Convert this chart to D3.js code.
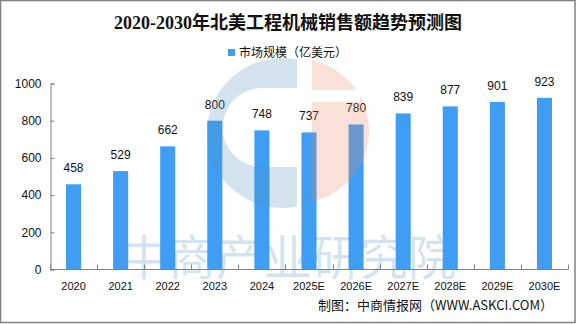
<!DOCTYPE html>
<html>
<head>
<meta charset="utf-8">
<script src="https://cdn.jsdelivr.net/npm/d3@7"></script>
<style>
  html, body { margin: 0; padding: 0; background: #fff; }
  svg { display: block; }
</style>
</head>
<body>
<div id="chart"></div>
<script>
var width = 576,
    height = 324;

const years = ["2020", "2021", "2022", "2023", "2024", "2025E", "2026E", "2027E", "2028E", "2029E", "2030E"];
const sales = [458, 529, 662, 800, 748, 737, 780, 839, 877, 901, 923];
const yTicks = [0, 200, 400, 600, 800, 1000];

const title = "2020-2030年北美工程机械销售额趋势预测图";
const seriesName = "市场规模（亿美元）";
const source = "制图：中商情报网（WWW.ASKCI.COM）";
const watermark = "中商产业研究院";

const barColor = "#3f9ef3";
const sans = "'Liberation Sans', 'Noto Sans CJK SC', sans-serif";
const cjk = "'Noto Sans CJK SC', sans-serif";

var svg = d3.select("#chart").append("svg")
  .attr("width", width)
  .attr("height", height);

// outer frame
svg.append("rect")
  .attr("x", 0.5).attr("y", 0.5)
  .attr("width", width - 1.5).attr("height", height - 2)
  .attr("fill", "#fff")
  .attr("stroke", "#808080")
  .attr("stroke-width", 1.5);

// plot area
var x = d3.scaleBand()
  .domain(years)
  .range([50, 568])
  .paddingInner(0.68)
  .paddingOuter(0.34);

var y = d3.scaleLinear()
  .domain([0, 1000])
  .range([269.5, 83.5]);

// watermark text, behind the bars
svg.append("text")
  .attr("x", 120)
  .attr("y", 275)
  .attr("font-size", 48)
  .style("font-family", cjk)
  .attr("fill", "rgb(80,148,192)")
  .attr("fill-opacity", 0.25)
  .text(watermark);

// bars
svg.append("g").selectAll("rect")
  .data(sales)
  .join("rect")
  .attr("x", (d, i) => x(years[i]))
  .attr("y", d => y(d))
  .attr("width", x.bandwidth())
  .attr("height", d => y(0) - y(d))
  .attr("fill", barColor);

// value labels
svg.append("g").selectAll("text")
  .data(sales)
  .join("text")
  .attr("x", (d, i) => x(years[i]) + x.bandwidth() / 2)
  .attr("y", d => y(d) - 12)
  .attr("text-anchor", "middle")
  .attr("font-size", 12)
  .style("font-family", sans)
  .attr("fill", "#111")
  .text(d => d);

// y axis
var yAxis = d3.axisLeft(y)
  .tickValues(yTicks)
  .tickFormat(d3.format("d"))
  .tickSize(-4)
  .tickPadding(9);

var gy = svg.append("g")
  .attr("transform", "translate(50.5,0)")
  .call(yAxis);
gy.selectAll("path, line").attr("stroke", "#808080");
gy.selectAll("text").attr("font-size", 12).attr("fill", "#111")
  .style("font-family", sans);

// x axis with ticks between categories
var gx = svg.append("g")
  .attr("transform", "translate(0," + 269.5 + ")");
gx.append("line")
  .attr("x1", 50).attr("x2", 568)
  .attr("stroke", "#808080");
gx.selectAll(".tk")
  .data(d3.range(years.length + 1))
  .join("line")
  .attr("class", "tk")
  .attr("x1", i => Math.round(50 + i * x.step()) + 0.5)
  .attr("x2", i => Math.round(50 + i * x.step()) + 0.5)
  .attr("y1", 0).attr("y2", -5)
  .attr("stroke", "#808080");
gx.selectAll(".lb")
  .data(years)
  .join("text")
  .attr("class", "lb")
  .attr("x", d => x(d) + x.bandwidth() / 2)
  .attr("y", 20)
  .attr("text-anchor", "middle")
  .attr("font-size", 11)
  .style("font-family", sans)
  .attr("fill", "#111")
  .text(d => d);

// watermark logo (drawn over bars, translucent)
var wm = svg.append("g").attr("pointer-events", "none");
var cx = 282, cy = 133;
// blue C shape: left part of outer circle minus an inner rounded hole
var blue = d3.path();
blue.moveTo(297, cy - Math.sqrt(75 * 75 - 15 * 15));
blue.arc(cx, cy, 75, -Math.acos(15 / 75), Math.acos(15 / 75), true);
blue.lineTo(297, 167);
blue.lineTo(262, 167);
blue.arc(262, 127.5, 39.5, Math.PI / 2, -Math.PI / 2, false);
blue.lineTo(297, 88);
blue.closePath();
wm.append("path")
  .attr("d", blue.toString())
  .attr("fill", "rgb(80,148,192)")
  .attr("fill-opacity", 0.25);

// peach half disc
var px = 297, py = 131, pr = 72;
var peach = d3.path();
var a0 = Math.acos(15 / pr);
peach.moveTo(312, py - Math.sqrt(pr * pr - 15 * 15));
peach.arc(px, py, pr, -a0, a0, false);
peach.closePath();
wm.append("path")
  .attr("d", peach.toString())
  .attr("fill", "rgb(236,136,96)")
  .attr("fill-opacity", 0.25);
// white cut in the peach disc
wm.append("rect")
  .attr("x", 312).attr("y", 90)
  .attr("width", 48).attr("height", 12)
  .attr("fill", "#fff");

// title
svg.append("text")
  .attr("x", 288)
  .attr("y", 29)
  .attr("text-anchor", "middle")
  .attr("font-size", 18)
  .attr("font-weight", "bold")
  .style("font-family", "'Liberation Serif', 'Noto Sans CJK SC', serif")
  .attr("fill", "#111")
  .text(title);

// legend
svg.append("rect")
  .attr("x", 228).attr("y", 49)
  .attr("width", 7).attr("height", 7)
  .attr("fill", barColor);
svg.append("text")
  .attr("x", 239)
  .attr("y", 57)
  .attr("font-size", 12)
  .attr("fill", "#111")
  .style("font-family", cjk)
  .text(seriesName);

// source
svg.append("text")
  .attr("x", 553)
  .attr("y", 310)
  .attr("text-anchor", "end")
  .attr("font-size", 13)
  .attr("fill", "#111")
  .style("font-family", cjk)
  .text(source);
</script>
</body>
</html>
